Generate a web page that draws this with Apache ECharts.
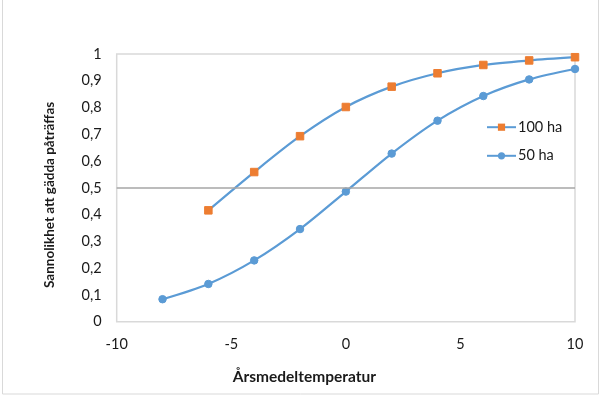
<!DOCTYPE html>
<html>
<head>
<meta charset="utf-8">
<script src="https://cdn.jsdelivr.net/npm/echarts@6/dist/echarts.min.js"></script>
<style>
html,body{margin:0;padding:0;background:#fff;}
#chart{width:600px;height:397px;}
</style>
</head>
<body>
<div id="chart"></div>
<script>
const xValues100 = [-6, -4, -2, 0, 2, 4, 6, 8, 10];
const prob100 = [0.416, 0.559, 0.693, 0.802, 0.878, 0.928, 0.959, 0.976, 0.988];
const xValues50 = [-8, -6, -4, -2, 0, 2, 4, 6, 8, 10];
const prob50 = [0.084, 0.141, 0.229, 0.346, 0.486, 0.628, 0.751, 0.843, 0.905, 0.944];
const seriesNames = ['100 ha', '50 ha'];
const referenceLevel = 0.5;
const xTitle = 'Årsmedeltemperatur';
const yTitle = 'Sannolikhet att gädda påträffas';

const FONT = 'Lato, "Noto Sans", sans-serif';
const TXT = '#1a1a1a';
const BLUE = '#5B9BD5';
const ORANGE = '#ED7D31';

const chart = echarts.init(document.getElementById('chart'), null, {renderer: 'canvas'});
chart.setOption({
  animation: false,
  backgroundColor: '#fff',
  textStyle: {fontFamily: FONT},
  graphic: [{
    type: 'rect',
    shape: {x: 2.5, y: -2, width: 596, height: 396},
    style: {fill: 'none', stroke: '#d9d9d9', lineWidth: 1},
    silent: true
  }],
  grid: {
    left: 116.7, right: 25, top: 54, bottom: 75.3,
    show: true, borderColor: '#d9d9d9', borderWidth: 1.5, backgroundColor: 'transparent'
  },
  legend: {
    orient: 'vertical',
    left: 486, top: 119.7, padding: 0,
    itemWidth: 29, itemHeight: 9, itemGap: 13.6,
    textStyle: {fontFamily: FONT, fontSize: 14.5, lineHeight: 14, color: TXT, padding: [0, 0, 0, -3]},
    data: seriesNames
  },
  xAxis: {
    type: 'value', min: -10, max: 10, interval: 5,
    name: xTitle, nameLocation: 'middle', nameGap: 47,
    nameTextStyle: {fontFamily: FONT, fontSize: 15.5, fontWeight: 'bold', color: TXT, padding: [0, 83, 0, 0]},
    axisLine: {show: false}, axisTick: {show: false}, splitLine: {show: false},
    axisLabel: {fontFamily: FONT, fontSize: 14.5, color: TXT, margin: 15}
  },
  yAxis: {
    type: 'value', min: 0, max: 1, interval: 0.1,
    name: yTitle, nameLocation: 'middle', nameGap: 60, nameRotate: 90,
    nameTextStyle: {fontFamily: FONT, fontSize: 13.5, fontWeight: 'bold', color: TXT, padding: [0, 14, 0, 0]},
    axisLine: {show: false}, axisTick: {show: false}, splitLine: {show: false},
    axisLabel: {fontFamily: FONT, fontSize: 14.5, color: TXT, margin: 15,
      formatter: v => String(Math.round(v * 10) / 10).replace('.', ',')}
  },
  series: [
    {
      name: seriesNames[0], type: 'line', smooth: 0.3,
      data: xValues100.map((x, i) => [x, prob100[i]]),
      symbol: 'rect', symbolSize: 7.5,
      lineStyle: {color: BLUE, width: 2.25},
      itemStyle: {color: ORANGE, borderColor: ORANGE},
      z: 3,
      markLine: {
        silent: true, symbol: 'none', animation: false,
        label: {show: false},
        lineStyle: {color: '#a6a6a6', width: 1.5, type: 'solid'},
        data: [{yAxis: referenceLevel}]
      }
    },
    {
      name: seriesNames[1], type: 'line', smooth: 0.3,
      data: xValues50.map((x, i) => [x, prob50[i]]),
      symbol: 'circle', symbolSize: 7.5,
      lineStyle: {color: BLUE, width: 2.25},
      itemStyle: {color: BLUE, borderColor: BLUE},
      z: 3
    }
  ]
});
</script>
</body>
</html>
